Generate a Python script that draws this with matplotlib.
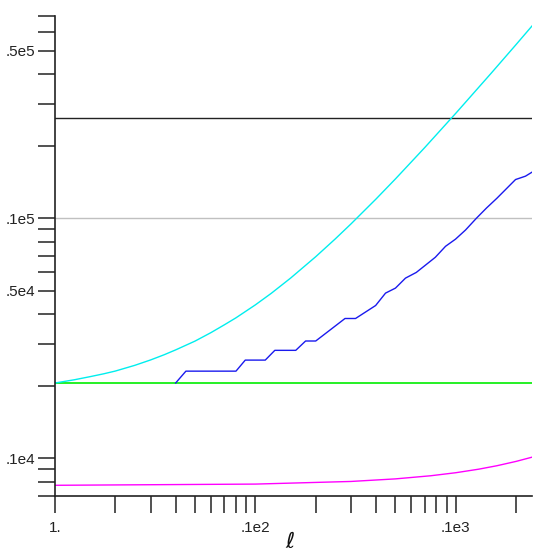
import matplotlib
matplotlib.use("Agg")
import matplotlib.pyplot as plt
from matplotlib.ticker import FixedLocator, NullFormatter

# Multipole values and spectra
ell_cyan = [1, 1.25, 1.5, 1.75, 2, 2.5, 3, 3.5, 4, 5, 6, 7, 8, 10, 12, 15, 20,
            25, 30, 40, 50, 70, 100, 150, 200, 240]
cyan_vals = [2060, 2125, 2190, 2250, 2310, 2440, 2570, 2700, 2830, 3080, 3340,
             3600, 3850, 4360, 4870, 5640, 6920, 8200, 9480, 12040, 14600,
             19720, 27400, 40200, 53000, 63300]

ell_blue = [4.0, 4.5, 8.0, 8.9, 11.2, 12.5, 15.9, 17.8, 20.0, 28.0, 31.6, 39.8,
            44.6, 50.0, 56.1, 63.5, 79.0, 88.9, 99.7, 111.8, 126.9, 142.3, 160.2,
            198.6, 222.7, 240]
blue_vals = [2060, 2308, 2308, 2566, 2566, 2818, 2818, 3082, 3082, 3825, 3825,
             4332, 4880, 5120, 5635, 5950, 6879, 7647, 8190, 8938, 10020, 11040,
             12115, 14506, 14985, 15570]

ell_mag = [1, 10, 30, 50, 75, 100, 130, 160, 200, 240]
mag_vals = [772, 781, 801, 821, 846, 871, 901, 931, 971, 1011]

ell_range = [1, 240]
green_level = 2060
gray_level = 10000
black_level = 26270

y_major = [1000, 5000, 10000, 50000]
y_major_labels = [".1e4", ".5e4", ".1e5", ".5e5"]
y_minor = [700, 800, 900, 2000, 3000, 4000, 6000, 7000, 8000, 9000,
           20000, 30000, 40000, 60000, 70000]
x_major = [1, 10, 100]
x_major_labels = ["1.", ".1e2", ".1e3"]
x_minor = [2, 3, 4, 5, 6, 7, 8, 9, 20, 30, 40, 50, 60, 70, 80, 90, 200]

W, H = 533, 552
fig = plt.figure(figsize=(W / 100, H / 100), dpi=100)
ax = fig.add_axes([55 / W, 1 - 495.5 / H, 477 / W, 480 / H])
ax.set_xscale("log")
ax.set_yscale("log")
ax.set_xlim(1, 240)
ax.set_ylim(700, 70000)

ax.plot(ell_range, [gray_level] * 2, color="#c0c0c0", lw=1.0)
ax.plot(ell_range, [black_level] * 2, color="#222222", lw=1.0)
ax.plot(ell_range, [green_level] * 2, color="#00ee00", lw=1.2)
ax.plot(ell_cyan, cyan_vals, color="#00eeee", lw=1.0)
ax.plot(ell_blue, blue_vals, color="#1a1aee", lw=1.0)
ax.plot(ell_mag, mag_vals, color="#ff00ff", lw=1.0)

for s in ["top", "right"]:
    ax.spines[s].set_visible(False)
for s in ["left", "bottom"]:
    ax.spines[s].set_linewidth(1.2)
    ax.spines[s].set_color("#222222")

ax.xaxis.set_major_locator(FixedLocator(x_major))
ax.xaxis.set_minor_locator(FixedLocator(x_minor))
ax.set_xticklabels(x_major_labels)
ax.xaxis.set_minor_formatter(NullFormatter())
ax.yaxis.set_major_locator(FixedLocator(y_major))
ax.yaxis.set_minor_locator(FixedLocator(y_minor))
ax.set_yticklabels(y_major_labels)
ax.yaxis.set_minor_formatter(NullFormatter())

for which in ["major", "minor"]:
    ax.tick_params(axis="both", which=which, direction="out", length=12.5,
                   width=1.1, color="#222222")
ax.tick_params(axis="x", which="major", pad=6)
ax.tick_params(axis="y", which="major", pad=2)
for lab in ax.get_xticklabels() + ax.get_yticklabels():
    lab.set_fontfamily("Liberation Sans")
    lab.set_fontsize(11)
    lab.set_color("#222222")

fig.text(290 / W, 1 - 542 / H, r"$\ell$", fontsize=16, ha="center", va="center",
         color="#111111")

fig.savefig("out.png", dpi=100)
